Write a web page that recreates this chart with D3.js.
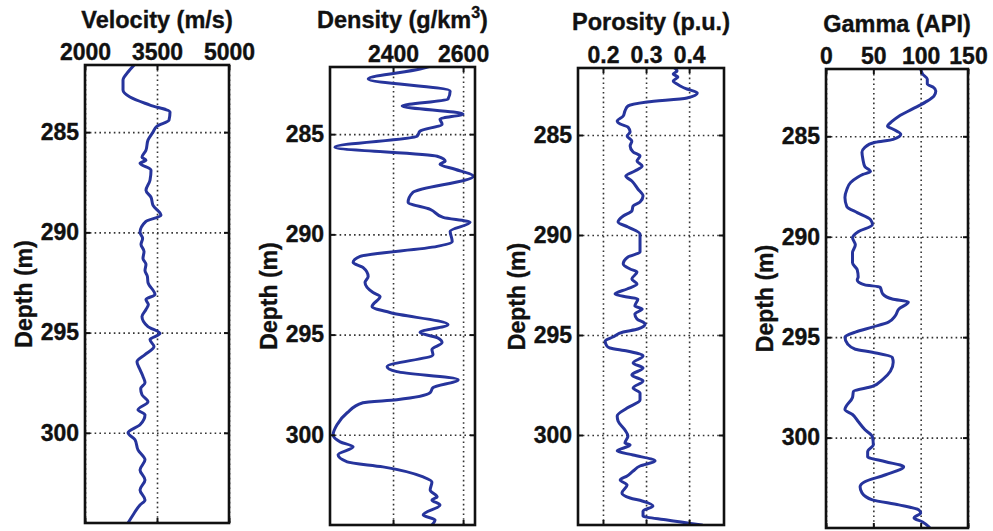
<!DOCTYPE html>
<html>
<head>
<meta charset="utf-8">
<script src="https://cdn.jsdelivr.net/npm/d3@7/dist/d3.min.js"></script>
<style>
  html, body { margin: 0; padding: 0; background: #fff; }
  svg { display: block; }
  text { font-family: "Liberation Sans", Arial, Helvetica, sans-serif; font-weight: bold; fill: #111; stroke: #111; stroke-width: 0.35px; }
</style>
</head>
<body>
<svg id="chart" width="993" height="531"></svg>
<script>
// Depth axis shared by all four well-log tracks (metres, increasing downward)
const depthDomain = [281.65, 304.5];
const depthTicks = [285, 290, 295, 300];

// Track 1: P-wave velocity (m/s)
const velocityTicks = [2000, 3500, 5000];
const velocityDepth = [281.66, 282.0, 282.4, 282.9, 283.25, 283.65, 284.0, 284.4, 284.7, 285.0, 285.4, 285.9, 286.25, 286.4, 286.55, 286.9, 287.4, 287.9, 288.25, 288.65, 289.15, 289.45, 290.0, 290.3, 290.6, 290.95, 291.3, 291.6, 291.9, 292.2, 292.5, 293.1, 293.35, 293.6, 293.85, 294.2, 294.7, 295.05, 295.35, 295.7, 296.1, 296.45, 296.85, 297.2, 297.5, 297.8, 298.1, 298.45, 298.85, 299.1, 299.6, 300.0, 300.35, 300.85, 301.35, 301.85, 302.35, 302.85, 303.35, 303.6, 304.1, 304.5];
const velocity      = [3021, 2896, 2792, 2792, 2937, 3354, 3771, 3750, 3500, 3417, 3312, 3270, 3187, 3270, 3146, 3375, 3354, 3270, 3375, 3417, 3583, 3270, 3146, 3200, 3167, 3230, 3208, 3270, 3250, 3300, 3312, 3458, 3270, 3320, 3270, 3187, 3312, 3562, 3354, 3437, 3250, 3083, 3146, 3210, 3250, 3160, 3187, 3312, 3104, 3250, 3146, 2896, 3042, 3104, 3250, 3146, 3250, 3146, 3250, 3146, 3000, 2896];

// Track 2: bulk density (g/km3)
const densityTicks = [2400, 2600];
const densityDepth = [281.55, 281.75, 282.25, 282.85, 283.25, 283.6, 284.0, 284.25, 284.5, 284.85, 285.1, 285.65, 286.1, 286.35, 286.5, 286.75, 287.1, 287.9, 288.4, 288.75, 289.15, 289.4, 289.85, 290.35, 290.6, 291.1, 291.4, 291.65, 292.1, 292.4, 292.9, 293.1, 293.6, 293.9, 294.5, 294.9, 295.15, 295.4, 295.75, 296.0, 296.6, 296.85, 297.25, 297.65, 297.9, 298.25, 298.4, 298.9, 299.5, 300.0, 300.35, 300.6, 301.0, 301.35, 301.6, 302.1, 302.35, 302.75, 303.1, 303.25, 303.5, 304.0, 304.25, 304.5];
const density      = [2520, 2477, 2329, 2563, 2557, 2426, 2600, 2534, 2540, 2477, 2469, 2234, 2526, 2549, 2534, 2577, 2629, 2457, 2443, 2506, 2543, 2620, 2563, 2569, 2526, 2306, 2286, 2314, 2329, 2320, 2343, 2363, 2340, 2391, 2557, 2477, 2526, 2540, 2511, 2514, 2383, 2411, 2586, 2514, 2506, 2411, 2314, 2269, 2240, 2229, 2249, 2286, 2243, 2269, 2371, 2486, 2511, 2506, 2526, 2511, 2534, 2486, 2520, 2511];

// Track 3: porosity (p.u.)
const porosityTicks = [0.2, 0.3, 0.4];
const porosityDepth = [281.6, 281.8, 281.95, 282.1, 282.3, 282.45, 282.6, 282.7, 282.9, 283.15, 283.35, 283.55, 283.8, 284.05, 284.3, 284.45, 284.6, 284.85, 285.05, 285.3, 285.55, 285.85, 286.05, 286.3, 286.55, 286.8, 287.05, 287.3, 287.7, 288.05, 288.35, 288.55, 288.8, 289.05, 289.35, 289.6, 289.95, 290.35, 290.85, 291.1, 291.45, 291.7, 291.85, 292.2, 292.45, 292.7, 292.95, 293.1, 293.2, 293.55, 293.7, 293.95, 294.2, 294.45, 294.7, 294.85, 295.1, 295.3, 295.55, 295.65, 295.8, 296.05, 296.4, 296.65, 297.0, 297.3, 297.65, 297.9, 298.25, 298.65, 299.05, 299.3, 299.75, 300.05, 300.4, 300.5, 300.8, 301.0, 301.3, 301.55, 301.8, 302.05, 302.25, 302.5, 302.9, 303.15, 303.3, 303.55, 303.8, 304.05, 304.25, 304.5];
const porosity      = [0.363, 0.372, 0.363, 0.374, 0.363, 0.372, 0.384, 0.395, 0.419, 0.395, 0.302, 0.258, 0.251, 0.247, 0.233, 0.240, 0.258, 0.263, 0.256, 0.267, 0.263, 0.270, 0.286, 0.279, 0.291, 0.274, 0.253, 0.267, 0.281, 0.293, 0.286, 0.270, 0.267, 0.247, 0.235, 0.258, 0.286, 0.286, 0.286, 0.258, 0.247, 0.263, 0.279, 0.267, 0.279, 0.256, 0.228, 0.256, 0.281, 0.274, 0.291, 0.274, 0.279, 0.298, 0.281, 0.247, 0.223, 0.205, 0.209, 0.216, 0.256, 0.293, 0.270, 0.293, 0.267, 0.293, 0.270, 0.286, 0.286, 0.256, 0.233, 0.235, 0.251, 0.258, 0.251, 0.263, 0.233, 0.270, 0.321, 0.286, 0.270, 0.256, 0.240, 0.256, 0.244, 0.263, 0.291, 0.316, 0.293, 0.293, 0.349, 0.430];

// Track 4: natural gamma ray (API)
const gammaTicks = [0, 50, 100, 150];
const gammaDepth = [281.65, 281.9, 282.15, 282.4, 282.55, 282.75, 283.0, 283.3, 283.65, 284.0, 284.25, 284.5, 284.65, 284.9, 285.15, 285.3, 285.55, 285.8, 286.15, 286.5, 286.75, 286.9, 287.05, 287.3, 287.65, 288.05, 288.5, 288.8, 289.15, 289.4, 289.75, 290.05, 290.4, 290.8, 291.3, 291.65, 292.0, 292.15, 292.4, 292.5, 292.85, 293.1, 293.25, 293.6, 293.95, 294.25, 294.5, 294.75, 295.0, 295.35, 295.6, 295.75, 296.0, 296.25, 296.7, 297.1, 297.45, 297.7, 298.0, 298.6, 298.85, 299.2, 299.6, 299.95, 300.35, 300.7, 300.95, 301.2, 301.45, 301.85, 302.2, 302.45, 302.75, 303.1, 303.35, 303.6, 303.75, 304.0, 304.2, 304.45];
const gamma      = [100, 102, 107, 107, 113, 116, 114, 105, 91, 77, 70, 65, 71, 79, 71, 52, 41, 38, 39, 41, 47, 39, 33, 26, 22, 20, 22, 33, 47, 49, 34, 28, 31, 28, 28, 33, 34, 33, 41, 57, 60, 70, 87, 77, 73, 66, 49, 31, 20, 23, 31, 49, 70, 71, 68, 60, 49, 29, 28, 20, 28, 34, 41, 49, 50, 44, 44, 63, 82, 63, 41, 36, 38, 49, 77, 98, 100, 93, 102, 109];

// Track layout (pixel frame of each plotting box)
const tracks = [
  { title: "Velocity (m/s)", sup: null, depth: velocityDepth, values: velocity, domain: [2000, 5000], ticks: velocityTicks,
    left: 85, right: 229, top: 65, bottom: 523, titleY: 28 },
  { title: "Density (g/km", sup: "3", depth: densityDepth, values: density, domain: [2220, 2634], ticks: densityTicks,
    left: 330, right: 475, top: 67, bottom: 525, titleY: 28 },
  { title: "Porosity (p.u.)", sup: null, depth: porosityDepth, values: porosity, domain: [0.142, 0.481], ticks: porosityTicks,
    left: 578, right: 724, top: 68, bottom: 525, titleY: 30 },
  { title: "Gamma (API)", sup: null, depth: gammaDepth, values: gamma, domain: [0, 150], ticks: gammaTicks,
    left: 826, right: 968, top: 69, bottom: 528, titleY: 32 }
];

const svg = d3.select("#chart");
const curveColor = "#26349c";

tracks.forEach((t, i) => {
  const w = t.right - t.left, h = t.bottom - t.top;
  const x = d3.scaleLinear().domain(t.domain).range([0, w]);
  const y = d3.scaleLinear().domain(depthDomain).range([0, h]);
  const g = svg.append("g").attr("transform", `translate(${t.left},${t.top})`);

  // dotted grid
  const gridX = g.append("g").attr("class", "grid")
    .call(d3.axisBottom(x).tickValues(t.ticks).tickSize(h).tickFormat(""));
  const gridY = g.append("g").attr("class", "grid")
    .call(d3.axisRight(y).tickValues(depthTicks).tickSize(w).tickFormat(""));
  [gridX, gridY].forEach(s => {
    s.select(".domain").remove();
    s.selectAll("line").attr("stroke", "#333").attr("stroke-width", 1.6)
      .attr("stroke-dasharray", "1.6,3.2");
  });

  // curve
  const clipId = "clip" + i;
  g.append("clipPath").attr("id", clipId)
    .append("rect").attr("x", 0).attr("y", 0).attr("width", w).attr("height", h);
  const pts = t.depth.map((d, k) => [t.values[k], d]);
  g.append("path")
    .datum(pts)
    .attr("clip-path", `url(#${clipId})`)
    .attr("fill", "none")
    .attr("stroke", curveColor)
    .attr("stroke-width", 3)
    .attr("stroke-linejoin", "round")
    .attr("stroke-linecap", "round")
    .attr("d", d3.line().curve(d3.curveMonotoneY).x(p => x(p[0])).y(p => y(p[1])));

  // inward ticks on all four sides + labels on top and left
  const fmt = d => String(d);
  const top = g.append("g").call(d3.axisTop(x).tickValues(t.ticks).tickSizeInner(-5).tickSizeOuter(0).tickPadding(5).tickFormat(fmt));
  const bottom = g.append("g").attr("transform", `translate(0,${h})`)
    .call(d3.axisBottom(x).tickValues(t.ticks).tickSizeInner(-5).tickSizeOuter(0).tickFormat(""));
  const left = g.append("g").call(d3.axisLeft(y).tickValues(depthTicks).tickSizeInner(-5).tickSizeOuter(0).tickPadding(6).tickFormat(fmt));
  const right = g.append("g").attr("transform", `translate(${w},0)`)
    .call(d3.axisRight(y).tickValues(depthTicks).tickSizeInner(-5).tickSizeOuter(0).tickFormat(""));
  [top, bottom, left, right].forEach(s => {
    s.select(".domain").remove();
    s.selectAll("line").attr("stroke", "#111").attr("stroke-width", 2);
    s.selectAll("text").attr("font-size", 23).attr("font-family", null).attr("fill", "#111");
  });

  // frame
  g.append("rect").attr("width", w).attr("height", h)
    .attr("fill", "none").attr("stroke", "#111").attr("stroke-width", 2.6);

  // title
  const title = svg.append("text")
    .attr("x", t.left + w / 2).attr("y", t.titleY)
    .attr("text-anchor", "middle").attr("font-size", 23.5)
    .text(t.title);
  if (t.sup) {
    title.append("tspan").attr("font-size", 16).attr("dy", -10).text(t.sup);
    title.append("tspan").attr("dy", 10).text(")");
  }

  // depth axis label
  svg.append("text")
    .attr("transform", `translate(${t.left - 53},${t.top + h / 2}) rotate(-90)`)
    .attr("text-anchor", "middle").attr("font-size", 23)
    .text("Depth (m)");
});
</script>
</body>
</html>
